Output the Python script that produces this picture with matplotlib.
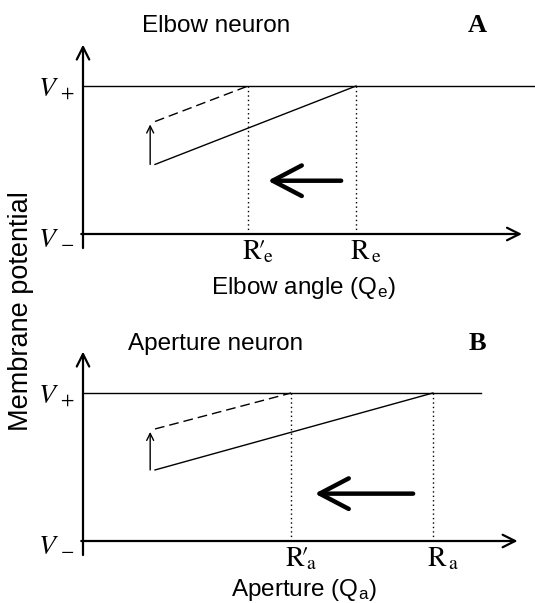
import matplotlib.pyplot as plt

plt.rcParams['font.family'] = 'Liberation Sans'
plt.rcParams['mathtext.fontset'] = 'stix'

# schematic values, x in arbitrary units along the angle axis, y: V- = 0, V+ = 1
titles = ['Elbow neuron', 'Aperture neuron']
letters = ['A', 'B']
xlabels = [r'Elbow angle (Q$_\mathregular{e}$)', r'Aperture (Q$_\mathregular{a}$)']
r_shift_labels = [r"$\mathrm{R}\!\prime_{\!\mathrm{e}}$", r"$\mathrm{R}\!\prime_{\!\mathrm{a}}$"]
r_labels = [r"$\mathrm{R}_{\,\mathrm{e}}$", r"$\mathrm{R}_{\,\mathrm{a}}$"]

r_shift = [3.76, 4.74]
r_orig = [6.22, 7.97]
line_start = [1.64, 1.64]
solid_start_y = [0.47, 0.48]
dashed_start_y = [0.76, 0.757]
vplus_end = [10.3, 9.07]
xaxis_end = [10.0, 9.9]
move_from = [5.88, 7.52]
move_to = [4.21, 5.28]
move_y = [0.36, 0.32]
up_x = [1.53, 1.53]

# layout (pixels of the 535x603 figure)
W, H = 535, 603
PX, PY = 43.9, 148.0
x0_px = 83
panel_rows = [(0, 300, 234), (300, 603, 541)]
title_y = [1.365, 1.29]
xlabel_y = [-0.405, -0.37]

fig = plt.figure(figsize=(W / 100, H / 100), dpi=100)

for i in range(2):
    top, bot, y0 = panel_rows[i]
    ax = fig.add_axes([0, 1 - bot / H, 1, (bot - top) / H])
    ax.set_xlim(-x0_px / PX, (W - x0_px) / PX)
    ax.set_ylim((y0 - bot) / PY, (y0 - top) / PY)
    ax.axis('off')

    ax_arrow = dict(arrowstyle='->,head_length=0.9,head_width=0.45', lw=1.6,
                    color='black', mutation_scale=10, shrinkA=0, shrinkB=0)
    # axes
    ax.annotate('', xy=(0, 1.28), xytext=(0, -0.095), arrowprops=ax_arrow)
    ax.annotate('', xy=(xaxis_end[i], 0), xytext=(-0.04, 0), arrowprops=ax_arrow)
    # V+ level
    ax.plot([0, vplus_end[i]], [1, 1], color='black', lw=1.0)

    # response lines
    ax.plot([line_start[i], r_orig[i]], [solid_start_y[i], 1], color='black', lw=1.0)
    ax.plot([line_start[i], r_shift[i]], [dashed_start_y[i], 1], color='black',
            lw=1.0, dashes=(7, 3.6))
    for r in (r_shift[i], r_orig[i]):
        ax.plot([r, r], [0, 1], color='black', lw=1.0, dashes=(1, 2.2))

    # small upward shift arrow
    ax.annotate('', xy=(up_x[i], dashed_start_y[i] - 0.02), xytext=(up_x[i], solid_start_y[i]),
                arrowprops=dict(arrowstyle='->,head_length=0.5,head_width=0.25', lw=1.0,
                                color='black', mutation_scale=10, shrinkA=0, shrinkB=0))
    # big leftward arrow
    ax.annotate('', xy=(move_to[i], move_y[i]), xytext=(move_from[i], move_y[i]),
                arrowprops=dict(arrowstyle='->,head_length=2.1,head_width=1.1', lw=3.2,
                                color='black', mutation_scale=10, shrinkA=0, shrinkB=0))

    # labels
    ax.text(-0.2, 0.94, r'$V_{\,+}$', ha='right', va='baseline', fontsize=20)
    ax.text(-0.2, -0.065, r'$V_{\,-}$', ha='right', va='baseline', fontsize=20)
    ax.text(r_shift[i] - 0.13, -0.17, r_shift_labels[i], ha='left', va='baseline', fontsize=20)
    ax.text(r_orig[i] - 0.14, -0.17, r_labels[i], ha='left', va='baseline', fontsize=20)
    ax.text((304 - x0_px) / PX, xlabel_y[i], xlabels[i], ha='center', va='baseline', fontsize=17.5)
    ax.text((216 - x0_px) / PX, title_y[i], titles[i], ha='center', va='baseline', fontsize=17.5)
    ax.text((477 - x0_px) / PX, title_y[i], letters[i], ha='center', va='baseline', fontsize=19,
            family='Liberation Serif', weight='bold')

fig.text(21 / W, 1 - 311 / H, 'Membrane potential', rotation=90, ha='center', va='center',
         fontsize=19.5)

fig.savefig('out.png', dpi=100)
